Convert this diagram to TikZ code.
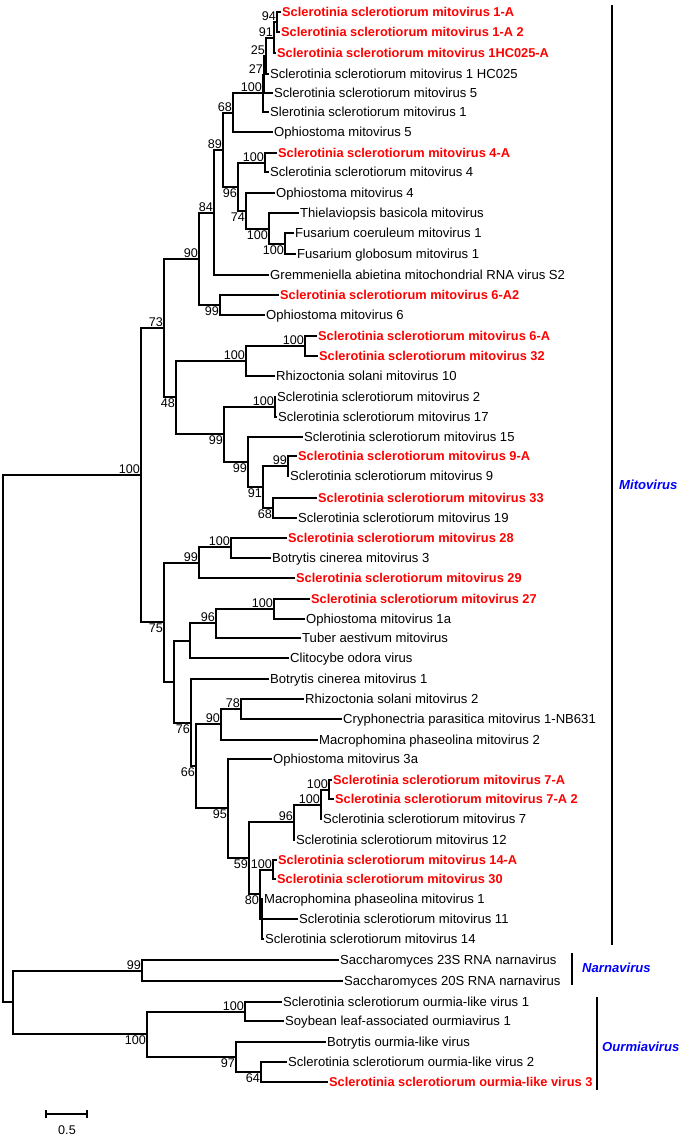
\documentclass[tikz,border=0pt]{standalone}
\usepackage{fontspec}
\setmainfont{Liberation Sans}
\definecolor{mred}{rgb}{1, 0, 0}
\definecolor{mblue}{rgb}{0, 0, 1}
\tikzset{branch/.style = {line width=1.6pt}}
\tikzset{leaf/.style = {anchor=west, inner sep=1pt, text height=9.4pt, text depth=0pt,
                        font=\fontsize{13.1}{15}\selectfont}}
\tikzset{newleaf/.style = {leaf, text=mred, font=\fontsize{12.8}{15}\selectfont\bfseries}}
\tikzset{bs/.style = {inner sep=1pt, text height=9pt, text depth=0pt,
                      font=\fontsize{12.6}{14}\selectfont}}
\tikzset{genus/.style = {anchor=west, inner sep=1pt, text=mblue,
                         font=\fontsize{13.1}{15}\selectfont\bfseries\itshape}}

\begin{document}
\begin{tikzpicture}[x=1pt, y=-1pt]
    \useasboundingbox (0, 0) rectangle (686, 1137);

    % leaves
    \foreach \i/\x/\y/\t in {4/269/74/Sclerotinia sclerotiorum mitovirus 1 HC025,
        5/273/93/Sclerotinia sclerotiorum mitovirus 5,
        6/269/112/Slerotinia sclerotiorum mitovirus 1,
        7/273/132/Ophiostoma mitovirus 5,
        9/269/172/Sclerotinia sclerotiorum mitovirus 4,
        10/275/193/Ophiostoma mitovirus 4,
        11/299/213/Thielaviopsis basicola mitovirus,
        12/294/233/Fusarium coeruleum mitovirus 1,
        13/296/254/Fusarium globosum mitovirus 1,
        14/269/275/Gremmeniella abietina mitochondrial RNA virus S2,
        16/265/315/Ophiostoma mitovirus 6,
        19/275/376/Rhizoctonia solani mitovirus 10,
        20/276/397/Sclerotinia sclerotiorum mitovirus 2,
        21/277/417/Sclerotinia sclerotiorum mitovirus 17,
        22/303/437/Sclerotinia sclerotiorum mitovirus 15,
        24/289/476/Sclerotinia sclerotiorum mitovirus 9,
        26/297/518/Sclerotinia sclerotiorum mitovirus 19,
        28/271/558/Botrytis cinerea mitovirus 3,
        31/305/619/Ophiostoma mitovirus 1a,
        32/301/638/Tuber aestivum mitovirus,
        33/289/658/Clitocybe odora virus,
        34/269/679/Botrytis cinerea mitovirus 1,
        35/304/699/Rhizoctonia solani mitovirus 2,
        36/342/719/Cryphonectria parasitica mitovirus 1-NB631,
        37/318/740/Macrophomina phaseolina mitovirus 2,
        38/272/759/Ophiostoma mitovirus 3a,
        41/322/819/Sclerotinia sclerotiorum mitovirus 7,
        42/295/840/Sclerotinia sclerotiorum mitovirus 12,
        45/263/899/Macrophomina phaseolina mitovirus 1,
        46/298/919/Sclerotinia sclerotiorum mitovirus 11,
        47/264/939/Sclerotinia sclerotiorum mitovirus 14,
        48/339/960/Saccharomyces 23S RNA narnavirus,
        49/343/981/Saccharomyces 20S RNA narnavirus,
        50/282/1002/Sclerotinia sclerotiorum ourmia-like virus 1,
        51/284/1021/Soybean leaf-associated ourmiavirus 1,
        52/326/1042/Botrytis ourmia-like virus,
        53/287/1062/Sclerotinia sclerotiorum ourmia-like virus 2}
      \node [leaf] (l\i) at (\x, \y) {\t};
    \foreach \i/\x/\y/\t in {1/281/12/Sclerotinia sclerotiorum mitovirus 1-A,
        2/280/32/Sclerotinia sclerotiorum mitovirus 1-A 2,
        3/276/53/Sclerotinia sclerotiorum mitovirus 1HC025-A,
        8/277/153/Sclerotinia sclerotiorum mitovirus 4-A,
        15/279/295/Sclerotinia sclerotiorum mitovirus 6-A2,
        17/317/336/Sclerotinia sclerotiorum mitovirus 6-A,
        18/318/356/Sclerotinia sclerotiorum mitovirus 32,
        23/297/456/Sclerotinia sclerotiorum mitovirus 9-A,
        25/317/498/Sclerotinia sclerotiorum mitovirus 33,
        27/287/538/Sclerotinia sclerotiorum mitovirus 28,
        29/295/578/Sclerotinia sclerotiorum mitovirus 29,
        30/310/599/Sclerotinia sclerotiorum mitovirus 27,
        39/332/780/Sclerotinia sclerotiorum mitovirus 7-A,
        40/334/799/Sclerotinia sclerotiorum mitovirus 7-A 2,
        43/277/860/Sclerotinia sclerotiorum mitovirus 14-A,
        44/276/879/Sclerotinia sclerotiorum mitovirus 30,
        54/328/1082/Sclerotinia sclerotiorum ourmia-like virus 3}
      \node [newleaf] (l\i) at (\x, \y) {\t};

    % inner nodes, bootstrap above or below
    \foreach \n/\x/\y/\b in {n94/277/22/94, n91/274/38/91, n25/266/56/25, n27/264/75/27,
        n100a/263/93/100, n68/233/113/68, n89/223/150/89, n100b/265/163/100,
        n84/214/213/84, n90/199/259/90, n100e/305/346/100, n100f/246/361/100,
        n100g/275/407/100, n99c/288/466/99, n73/164/328/73, n100h/231/547/100,
        n99e/199/563/99, n100i/274/609/100, n96b/216/623/96, n78/241/709/78,
        n90b/221/724/90, n100j/329/790/100, n100k/321/805/100, n96c/294/822/96,
        n100l/273/870/100, n100m/141/475/100, n99f/142/971/99, n100n/245/1012/100}
      \coordinate [label={[bs]above left:\b}] (\n) at (\x, \y);
    \foreach \n/\x/\y/\b in {n96a/238/187/96, n74/246/211/74, n100c/269/229/100,
        n100d/285/244/100, n99a/220/305/99, n68b/273/508/68, n91b/263/487/91,
        n99d/248/462/99, n99b/224/434/99, n48/176/397/48, n75/164/622/75,
        n80/260/894/80, n59/249/858/59, n95/228/808/95, n66/196/766/66,
        n76/191/723/76, n64/261/1072/64, n97/236/1057/97, n100o/147/1034/100}
      \coordinate [label={[bs]below left:\b}] (\n) at (\x, \y);
    \coordinate (nu1) at (190, 641);
    \coordinate (nu2) at (262, 919);
    \coordinate (nu3) at (174, 682);
    \coordinate (nu4) at (13, 1002);
    \coordinate (root) at (3, 739);

    % branches
    \foreach \p/\c in {n94/l1, n94/l2, n91/n94, n91/l3, n25/n91, n25/l4, n27/n25, n27/l5,
        n100a/n27, n100a/l6, n68/n100a, n68/l7, n100b/l8, n100b/l9, n100d/l12, n100d/l13,
        n100c/l11, n100c/n100d, n74/l10, n74/n100c, n96a/n100b, n96a/n74, n89/n68, n89/n96a,
        n84/n89, n84/l14, n99a/l15, n99a/l16, n90/n84, n90/n99a, n100e/l17, n100e/l18,
        n100f/n100e, n100f/l19, n100g/l20, n100g/l21, n99c/l23, n99c/l24, n68b/l25, n68b/l26,
        n91b/n99c, n91b/n68b, n99d/l22, n99d/n91b, n99b/n100g, n99b/n99d, n48/n100f, n48/n99b,
        n73/n90, n73/n48, n100h/l27, n100h/l28, n99e/n100h, n99e/l29, n100i/l30, n100i/l31,
        n96b/n100i, n96b/l32, nu1/n96b, nu1/l33, n78/l35, n78/l36, n90b/n78, n90b/l37,
        n100j/l39, n100j/l40, n100k/n100j, n100k/l41, n96c/n100k, n96c/l42, n100l/l43, n100l/l44,
        nu2/l45, nu2/l46, nu2/l47, n80/n100l, n80/nu2, n59/n96c, n59/n80, n95/l38, n95/n59,
        n66/n90b, n66/n95, n76/l34, n76/n66, nu3/nu1, nu3/n76, n75/n99e, n75/nu3,
        n100m/n73, n100m/n75, n99f/l48, n99f/l49, n100n/l50, n100n/l51, n64/l53, n64/l54,
        n97/l52, n97/n64, n100o/n100n, n100o/n97, nu4/n99f, nu4/n100o, root/n100m, root/nu4}
      \draw [branch] (\p) |- (\c);

    % groups
    \coordinate (mtop) at (612, 5);
    \coordinate (mbot) at (612, 945);
    \draw [branch] (mtop) -- (mbot);
    \node [genus] (mito) at (618, 485) {Mitovirus};
    \coordinate (ntop) at (572, 953);
    \coordinate (nbot) at (572, 985);
    \draw [branch] (ntop) -- (nbot);
    \node [genus] (narna) at (581, 968) {Narnavirus};
    \coordinate (otop) at (597, 997);
    \coordinate (obot) at (597, 1090);
    \draw [branch] (otop) -- (obot);
    \node [genus] (ourmia) at (601, 1047) {Ourmiavirus};

    % scale
    \coordinate (s0) at (46, 1114);
    \coordinate (s1) at (87, 1114);
    \draw [branch] (s0) -- (s1);
    \draw [branch] ([yshift=4pt]s0) -- ([yshift=-4pt]s0);
    \draw [branch] ([yshift=4pt]s1) -- ([yshift=-4pt]s1);
    \node [bs] (scale) at (67, 1130) {0.5};
\end{tikzpicture}
\end{document}
